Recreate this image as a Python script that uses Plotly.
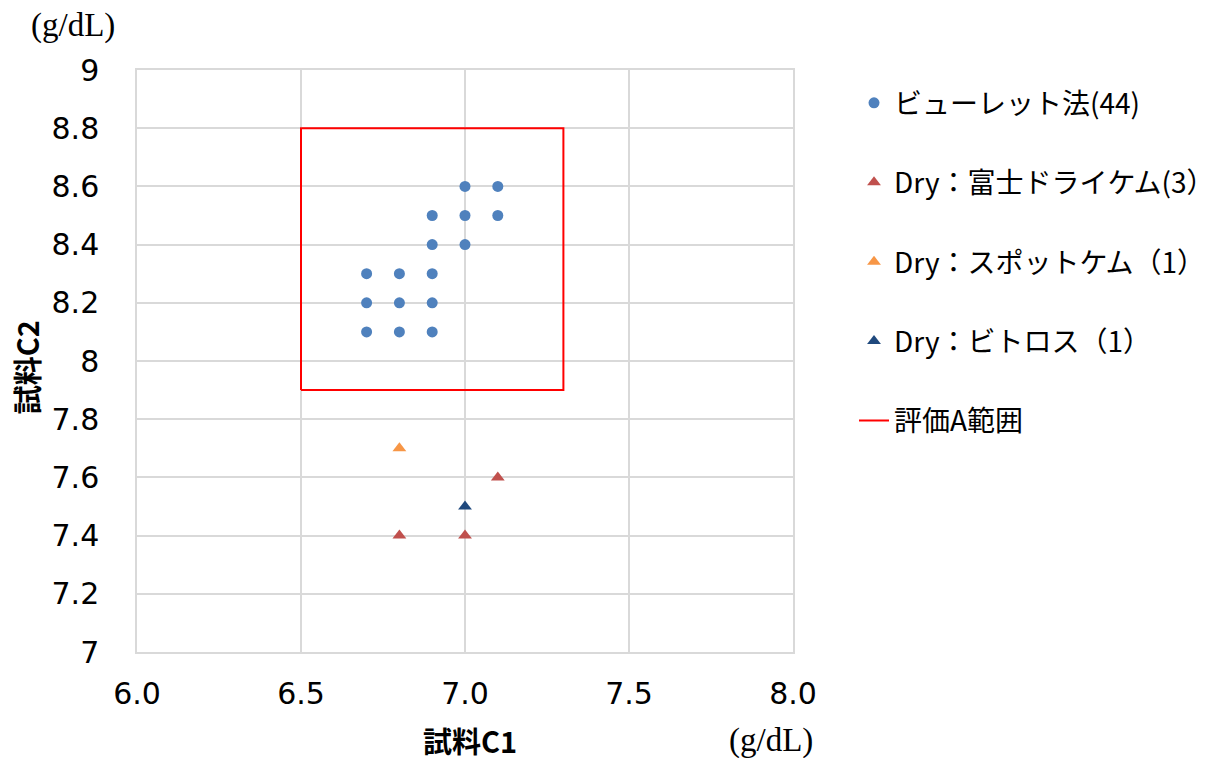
import plotly.graph_objects as go

# Data
biuret_x = [6.7, 6.8, 6.9, 6.7, 6.8, 6.9, 6.7, 6.8, 6.9, 6.9, 7.0, 6.9, 7.0, 7.1, 7.0, 7.1]
biuret_y = [8.3, 8.3, 8.3, 8.2, 8.2, 8.2, 8.1, 8.1, 8.1, 8.4, 8.4, 8.5, 8.5, 8.5, 8.6, 8.6]
fuji_x = [6.8, 7.0, 7.1]
fuji_y = [7.4, 7.4, 7.6]
spot_x = [6.8]
spot_y = [7.7]
vitros_x = [7.0]
vitros_y = [7.5]
range_x = [6.5, 7.3, 7.3, 6.5, 6.5]
range_y = [7.9, 7.9, 8.8, 8.8, 7.9]

names = ["ビューレット法(44)", "Dry：富士ドライケム(3）", "Dry：スポットケム（1）", "Dry：ビトロス（1）", "評価A範囲"]
x_ticks = [6.0, 6.5, 7.0, 7.5, 8.0]
y_ticks = [7.0, 7.2, 7.4, 7.6, 7.8, 8.0, 8.2, 8.4, 8.6, 8.8, 9.0]
y_tick_labels = ["7", "7.2", "7.4", "7.6", "7.8", "8", "8.2", "8.4", "8.6", "8.8", "9"]

fig = go.Figure()
fig.add_trace(go.Scatter(x=biuret_x, y=biuret_y, mode="markers", name=names[0], legendgroup="a",
                         marker=dict(symbol="circle", size=11, color="#4F81BD")))
fig.add_trace(go.Scatter(x=fuji_x, y=fuji_y, mode="markers", name=names[1], legendgroup="b",
                         marker=dict(symbol="triangle-up", size=12, color="#C0504D")))
fig.add_trace(go.Scatter(x=spot_x, y=spot_y, mode="markers", name=names[2], legendgroup="c",
                         marker=dict(symbol="triangle-up", size=12, color="#F79646")))
fig.add_trace(go.Scatter(x=vitros_x, y=vitros_y, mode="markers", name=names[3], legendgroup="d",
                         marker=dict(symbol="triangle-up", size=12, color="#1F497D")))
fig.add_trace(go.Scatter(x=range_x, y=range_y, mode="lines", name=names[4], legendgroup="e",
                         line=dict(color="#FF0000", width=2)))

tick_font = dict(family="DejaVu Sans, Verdana", size=30, color="#000000")
fig.update_layout(
    width=1210, height=758,
    margin=dict(l=129, r=425, t=62, b=114, autoexpand=False),
    plot_bgcolor="white", paper_bgcolor="white",
    showlegend=True,
    legend=dict(x=1.093, y=0.986, xanchor="left", yanchor="top",
                font=dict(family="Noto Sans CJK JP", size=28, color="#000000"),
                tracegroupgap=40, itemwidth=30),
    xaxis=dict(range=[6.0, 8.0], tickvals=x_ticks, tickformat=".1f", tickfont=tick_font,
               showgrid=True, gridcolor="#D9D9D9", gridwidth=1.5, zeroline=False,
               ticks="", ticklabelstandoff=14),
    yaxis=dict(range=[7.0, 9.0], tickvals=y_ticks, ticktext=y_tick_labels, tickfont=tick_font,
               showgrid=True, gridcolor="#D9D9D9", gridwidth=1.5, zeroline=False,
               ticks="", ticklabelstandoff=30),
    annotations=[
        dict(text="試料C1", xref="paper", yref="paper", x=0.508, y=-0.152, xanchor="center", yanchor="middle",
             showarrow=False, font=dict(family="Noto Sans CJK JP", size=29, color="#000000", weight="bold")),
        dict(text="試料C2", xref="paper", yref="paper", x=-0.17, y=0.49, xanchor="center", yanchor="middle",
             textangle=-90, showarrow=False,
             font=dict(family="Noto Sans CJK JP", size=29, color="#000000", weight="bold")),
        dict(text="(g/dL)", xref="paper", yref="paper", x=-0.098, y=1.077, xanchor="center", yanchor="middle",
             showarrow=False, font=dict(family="Liberation Serif", size=33, color="#000000")),
        dict(text="(g/dL)", xref="paper", yref="paper", x=0.967, y=-0.152, xanchor="center", yanchor="middle",
             showarrow=False, font=dict(family="Liberation Serif", size=33, color="#000000")),
    ],
)
fig.update_xaxes(mirror=True, showline=True, linecolor="#D9D9D9", linewidth=1.5)
fig.update_yaxes(mirror=True, showline=True, linecolor="#D9D9D9", linewidth=1.5)

fig.write_html("out.html")
